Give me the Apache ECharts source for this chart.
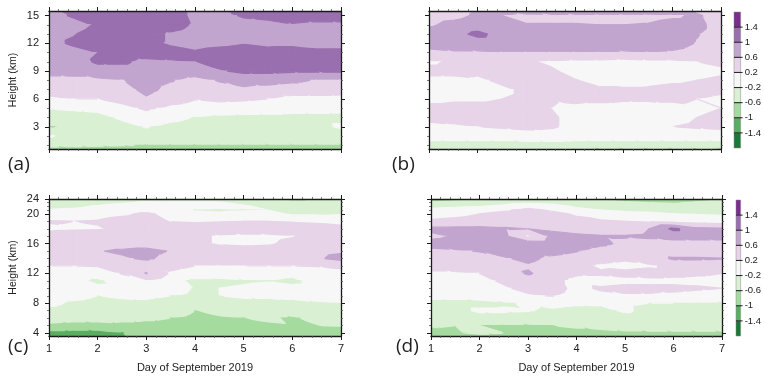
<!DOCTYPE html>
<html><head><meta charset="utf-8">
<script src="https://cdn.jsdelivr.net/npm/echarts@6/dist/echarts.min.js"></script>
<style>html,body{margin:0;padding:0;background:#fff}#c{width:764px;height:379px}</style>
</head><body><div id="c"></div>
<script>
// ---------------- data ----------------
const days = [1,1.5,2,2.5,3,3.5,4,4.5,5,5.5,6,6.5,7];
const heightsAB = [15.5,15,14,13,12,11,10,9,8,7,6,5,4,3,2,1,0.6];
const heightsCD = [24,23,22,21,20,19,18,17,16,15,14,13,12,11,10,9,8,7,6,5,4,3.6];
const levels = [-1.4,-1,-0.6,-0.2,0.2,0.6,1,1.4];
const levelLabels = ['-1.4','-1','-0.6','-0.2','0.2','0.6','1','1.4'];
const dayTicks = [1,2,3,4,5,6,7];
const ticksAB = [3,6,9,12,15];
const minorAB = [1,2,4,5,7,8,10,11,13,14];
const ticksCD = [4,8,12,16,20,24];
const minorCD = [5,6,7,9,10,11,13,14,15,17,18,19,21,22,23];
const xTitle = 'Day of September 2019';
const yTitle = 'Height (km)';
const panelLabels = ['(a)','(b)','(c)','(d)'];

const panelA = [
 [0.85,1.15,1.2,1.2,1.2,1.2,0.9,0.95,1.15,1.2,1.2,1.2,1.2],
 [0.85,1.05,1.2,1.2,1.3,1.2,0.9,0.85,1.05,1.1,1.1,1.1,1.1],
 [0.8,0.85,1.05,1.2,1.2,1.15,0.95,0.8,0.85,0.9,0.98,0.95,0.95],
 [0.9,0.98,1.15,1.2,1.15,0.95,0.85,0.8,0.85,0.85,0.85,0.85,0.85],
 [0.9,1.05,1.2,1.2,1.1,0.95,0.85,0.9,0.98,0.9,0.9,0.85,0.85],
 [0.85,0.88,1.0,1.15,1.15,1.15,1.05,1.15,1.2,1.15,1.2,1.1,1.1],
 [0.8,0.85,1.05,1.05,0.92,0.95,1.0,1.15,1.25,1.25,1.3,1.3,1.25],
 [0.7,0.72,0.85,0.85,0.85,0.8,0.75,0.95,1.1,1.1,1.05,1.05,1.05],
 [0.5,0.5,0.5,0.58,0.75,0.62,0.5,0.62,0.7,0.7,0.65,0.58,0.55],
 [0.3,0.35,0.35,0.45,0.7,0.5,0.45,0.5,0.55,0.5,0.45,0.45,0.4],
 [0.15,0.2,0.2,0.3,0.55,0.35,0.22,0.28,0.25,0.2,0.05,0.05,0.05],
 [-0.18,-0.15,-0.12,0.1,0.25,0.12,0.05,0.02,0.0,-0.02,-0.08,-0.08,-0.1],
 [-0.4,-0.35,-0.3,-0.15,0.05,-0.1,-0.22,-0.28,-0.3,-0.3,-0.3,-0.3,-0.3],
 [-0.65,-0.5,-0.4,-0.3,-0.18,-0.3,-0.35,-0.35,-0.35,-0.35,-0.35,-0.3,-0.15],
 [-0.15,-0.35,-0.4,-0.4,-0.35,-0.4,-0.4,-0.4,-0.4,-0.4,-0.4,-0.4,-0.4],
 [-0.5,-0.52,-0.55,-0.58,-0.62,-0.62,-0.62,-0.62,-0.62,-0.62,-0.62,-0.62,-0.62],
 [-0.75,-0.75,-0.75,-0.75,-0.75,-0.75,-0.75,-0.75,-0.75,-0.75,-0.75,-0.75,-0.75]
];
const panelB = [
 [0.45,0.5,0.62,0.75,0.8,0.85,1.05,1.05,1.05,1.05,1.0,0.55,0.45],
 [0.45,0.5,0.65,0.6,0.5,0.5,0.5,0.5,0.5,0.5,0.55,0.65,0.45],
 [0.55,0.7,0.8,0.68,0.62,0.62,0.62,0.6,0.6,0.62,0.7,0.7,0.45],
 [0.75,0.85,1.1,0.85,0.8,0.8,0.85,0.85,0.85,0.85,0.8,0.62,0.45],
 [0.75,0.8,0.8,0.8,0.8,0.8,0.85,0.85,0.8,0.8,0.75,0.58,0.45],
 [0.5,0.55,0.55,0.58,0.58,0.58,0.58,0.58,0.55,0.58,0.55,0.45,0.4],
 [0.15,0.25,0.35,0.3,0.25,0.15,0.1,0.1,0.05,0.1,0.1,0.2,0.25],
 [0.3,0.3,0.25,0.3,0.3,0.25,0.1,0.05,0.0,0.05,0.1,0.1,0.15],
 [0.1,0.1,0.15,0.25,0.3,0.3,0.22,0.1,0.05,0.1,0.15,0.2,0.25],
 [0.05,0.05,0.1,0.15,0.25,0.3,0.3,0.25,0.25,0.25,0.3,0.3,0.25],
 [0.1,0.15,0.15,0.2,0.25,0.25,0.3,0.3,0.25,0.25,0.25,0.2,0.15],
 [0.3,0.3,0.3,0.3,0.25,0.2,0.1,0.05,0.05,0.05,0.1,0.15,0.2],
 [0.3,0.3,0.35,0.35,0.3,0.25,0.1,0.05,0.05,0.05,0.1,0.2,0.25],
 [0.1,0.15,0.2,0.25,0.3,0.25,0.1,0.05,0.05,0.1,0.2,0.25,0.3],
 [-0.05,-0.05,-0.05,-0.05,0.0,0.0,-0.05,-0.05,-0.05,-0.05,-0.05,-0.05,-0.05],
 [-0.35,-0.35,-0.35,-0.35,-0.35,-0.35,-0.35,-0.35,-0.35,-0.35,-0.35,-0.35,-0.35],
 [-0.5,-0.5,-0.55,-0.55,-0.55,-0.6,-0.62,-0.65,-0.65,-0.65,-0.65,-0.65,-0.65]
];
const panelC = [
 [-0.65,-0.65,-0.65,-0.5,-0.4,-0.35,-0.35,-0.4,-0.5,-0.65,-0.9,-0.6,-0.45],
 [-0.45,-0.4,-0.35,-0.25,-0.1,-0.15,-0.15,-0.15,-0.3,-0.35,-0.35,-0.35,-0.35],
 [-0.35,-0.3,-0.15,0.0,0.05,0.0,-0.05,-0.1,-0.15,-0.3,-0.35,-0.35,-0.35],
 [-0.15,-0.1,0.0,0.05,0.1,0.05,-0.22,-0.25,-0.22,-0.2,-0.3,-0.3,-0.3],
 [0.0,0.05,0.1,0.15,0.25,0.1,-0.1,-0.15,-0.1,-0.1,-0.25,-0.25,-0.22],
 [0.22,0.2,0.22,0.3,0.35,0.18,0.15,0.18,0.2,0.2,0.15,0.1,0.0],
 [0.15,0.17,0.18,0.25,0.35,0.4,0.45,0.45,0.45,0.45,0.6,0.45,0.4],
 [0.3,0.35,0.35,0.35,0.35,0.35,0.3,0.15,0.1,0.1,0.18,0.35,0.35],
 [0.35,0.4,0.45,0.45,0.45,0.4,0.3,0.15,0.12,0.15,0.3,0.4,0.4],
 [0.4,0.45,0.58,0.65,0.7,0.58,0.45,0.4,0.4,0.4,0.45,0.5,0.55],
 [0.4,0.4,0.45,0.55,0.65,0.5,0.4,0.4,0.4,0.4,0.45,0.55,0.7],
 [0.2,0.2,0.22,0.35,0.4,0.3,0.2,0.18,0.2,0.2,0.2,0.22,0.3],
 [0.05,0.05,0.0,0.22,0.62,0.15,0.05,0.0,0.0,0.0,-0.1,0.0,0.05],
 [0.0,-0.05,-0.3,0.05,0.15,-0.05,-0.3,-0.3,-0.25,-0.22,-0.3,-0.05,0.0],
 [0.0,-0.05,-0.1,-0.05,0.0,-0.1,-0.22,-0.2,-0.15,-0.1,-0.1,-0.05,0.0],
 [-0.05,-0.1,-0.2,-0.15,-0.15,-0.2,-0.25,-0.2,-0.15,-0.15,-0.15,-0.15,-0.12],
 [-0.12,-0.25,-0.3,-0.28,-0.25,-0.3,-0.35,-0.3,-0.3,-0.3,-0.25,-0.22,-0.2],
 [-0.3,-0.35,-0.35,-0.35,-0.35,-0.4,-0.6,-0.5,-0.45,-0.4,-0.45,-0.4,-0.35],
 [-0.4,-0.45,-0.45,-0.5,-0.55,-0.6,-0.7,-0.65,-0.6,-0.55,-0.65,-0.5,-0.45],
 [-0.7,-0.75,-0.75,-0.7,-0.7,-0.7,-0.75,-0.7,-0.7,-0.65,-0.62,-0.6,-0.58],
 [-1.15,-1.15,-1.15,-1.01,-0.85,-0.85,-0.85,-0.8,-0.8,-0.8,-0.8,-0.8,-0.8],
 [-1.2,-1.2,-1.2,-1.02,-0.9,-0.9,-0.9,-0.85,-0.85,-0.85,-0.85,-0.85,-0.85]
];
const panelD = [
 [-0.75,-0.7,-0.6,-0.45,-0.4,-0.4,-0.45,-0.65,-0.7,-0.8,-1.1,-0.8,-0.55],
 [-0.55,-0.5,-0.45,-0.35,-0.25,-0.3,-0.4,-0.5,-0.55,-0.6,-0.65,-0.5,-0.4],
 [-0.3,-0.25,-0.22,-0.1,0.1,-0.05,-0.25,-0.3,-0.35,-0.35,-0.4,-0.35,-0.35],
 [-0.1,-0.05,0.05,0.15,0.3,0.15,-0.1,-0.2,-0.25,-0.25,-0.3,-0.3,-0.3],
 [0.05,0.1,0.2,0.3,0.35,0.3,0.15,0.0,-0.1,-0.15,-0.2,-0.22,-0.25],
 [0.25,0.3,0.35,0.4,0.45,0.4,0.3,0.25,0.2,0.15,0.1,0.05,0.0],
 [0.7,0.7,0.7,0.65,0.6,0.55,0.5,0.45,0.45,0.6,1.1,0.7,0.65],
 [0.5,0.65,0.75,0.7,0.15,0.7,0.65,0.62,0.62,0.65,0.7,0.7,0.7],
 [0.75,0.8,0.8,0.85,0.85,0.8,0.75,0.65,0.55,0.5,0.5,0.5,0.5],
 [0.5,0.55,0.62,0.75,0.8,0.75,0.62,0.5,0.45,0.4,0.35,0.35,0.35],
 [0.4,0.4,0.45,0.55,0.7,0.5,0.4,0.3,0.25,0.4,0.65,0.65,0.62],
 [0.3,0.35,0.4,0.45,0.55,0.4,0.3,0.15,0.1,0.15,0.3,0.35,0.35],
 [0.15,0.15,0.2,0.35,0.65,0.4,0.25,0.25,0.3,0.35,0.3,0.25,0.2],
 [0.05,0.05,0.1,0.25,0.4,0.3,0.1,0.05,0.1,0.1,0.1,0.1,0.1],
 [0.0,0.0,0.05,0.15,0.3,0.35,0.1,0.25,0.3,0.3,0.3,0.25,0.2],
 [-0.1,-0.1,-0.05,0.05,0.15,0.22,0.05,0.1,0.15,0.15,0.1,0.05,0.0],
 [-0.3,-0.3,-0.3,-0.25,-0.15,-0.1,-0.15,-0.15,-0.15,-0.2,-0.2,-0.22,-0.25],
 [-0.35,-0.3,-0.15,-0.15,-0.18,-0.25,-0.3,-0.3,-0.15,-0.3,-0.3,-0.3,-0.3],
 [-0.4,-0.4,-0.35,-0.35,-0.4,-0.4,-0.4,-0.4,-0.35,-0.35,-0.35,-0.35,-0.35],
 [-0.58,-0.6,-0.6,-0.62,-0.65,-0.6,-0.55,-0.5,-0.48,-0.45,-0.45,-0.45,-0.45],
 [-0.7,-0.65,-0.5,-0.6,-0.75,-0.75,-0.7,-0.7,-0.65,-0.65,-0.65,-0.65,-0.65],
 [-0.75,-0.75,-0.75,-0.75,-0.75,-0.75,-0.75,-0.75,-0.75,-0.75,-0.75,-0.75,-0.75]
];

// ---------------- styling ----------------
const bandColors = ['#1b7837','#5aae61','#a6dba0','#d9f0d3','#f7f7f7','#e7d4e8','#c2a5cf','#9a6faf','#7b2d8b'];
const FONT = 'Liberation Sans';
const AX = '#1a1a1a';
const tfAB = h => h;
const tfCD = h => h <= 20 ? h : 20 + (h - 20) / 2;   // compressed top of the c/d height axis
const invCD = u => u <= 20 ? u : 20 + (u - 20) * 2;

function buildTriangles(grid, heights, tf) {
  const out = [];
  for (let r = 0; r < heights.length - 1; r++) {
    for (let c = 0; c < days.length - 1; c++) {
      const p00 = [days[c], tf(heights[r]), grid[r][c]];
      const p01 = [days[c+1], tf(heights[r]), grid[r][c+1]];
      const p10 = [days[c], tf(heights[r+1]), grid[r+1][c]];
      const p11 = [days[c+1], tf(heights[r+1]), grid[r+1][c+1]];
      out.push([].concat(p00, p01, p11));
      out.push([].concat(p00, p11, p10));
    }
  }
  return out;
}

function clip(poly, t, keepAbove) {
  const res = [];
  const inside = p => keepAbove ? p[2] >= t : p[2] < t;
  for (let i = 0; i < poly.length; i++) {
    const a = poly[i], b = poly[(i + 1) % poly.length];
    const ia = inside(a), ib = inside(b);
    if (ia) res.push(a);
    if (ia !== ib) {
      const f = (t - a[2]) / (b[2] - a[2]);
      res.push([a[0] + f * (b[0] - a[0]), a[1] + f * (b[1] - a[1]), t]);
    }
  }
  return res;
}

function renderTri(params, api) {
  const pts = [];
  for (let k = 0; k < 3; k++) {
    const p = api.coord([api.value(3*k), api.value(3*k+1)]);
    pts.push([p[0], p[1], api.value(3*k+2)]);
  }
  const children = [];
  for (let b = 0; b < 9; b++) {
    let poly = pts;
    if (b > 0) poly = clip(poly, levels[b-1], true);
    if (poly.length >= 3 && b < 8) poly = clip(poly, levels[b], false);
    if (poly.length >= 3) {
      children.push({type:'polygon', shape:{points: poly.map(p => [p[0], p[1]])},
        style:{fill: bandColors[b], stroke: bandColors[b], lineWidth: 1.2, lineJoin:'round'}});
    }
  }
  return {type:'group', children};
}

const grid = [
  {left:49, top:11, width:292, height:138},
  {left:429, top:11, width:292, height:138},
  {left:49, top:199, width:292, height:137},
  {left:431, top:199, width:291, height:137},
  {left:734, top:12, width:9, height:136},
  {left:736, top:200, width:8, height:136}
];
const xAxis = [], yAxis = [], series = [];
const labStyle = {fontSize:11, color:'#222', fontFamily:FONT};

function addPanel(gi, data, heights, tf, inv, majors, minors, showX, showY) {
  const xb = {gridIndex:gi, type:'value', min:1, max:7, interval:1, splitLine:{show:false},
    axisLine:{show:true, onZero:false, lineStyle:{color:AX, width:1.3}},
    axisTick:{show:true, length:4, lineStyle:{color:AX, width:1}},
    minorTick:{show:true, splitNumber:5, length:2, lineStyle:{color:'#555', width:0.8}},
    minorSplitLine:{show:false}};
  xAxis.push(Object.assign({}, xb, {position:'bottom', z:5,
    axisLabel:Object.assign({show:showX, margin:7}, labStyle),
    name: showX ? xTitle : '', nameLocation:'middle', nameGap:26, nameTextStyle:labStyle}));
  xAxis.push(Object.assign({}, xb, {position:'top', z:5, axisLabel:{show:false}}));
  const yMin = tf(heights[heights.length-1]), yMax = tf(heights[0]);
  const maj = majors.map(tf), mnr = minors.map(tf);
  const yb = {gridIndex:gi, type:'value', min:yMin, max:yMax, splitLine:{show:false}, z:5};
  ['left','right'].forEach(pos => {
    yAxis.push(Object.assign({}, yb, {position:pos,
      axisLine:{show:true, onZero:false, lineStyle:{color:AX, width:1.3}},
      axisTick:{show:true, length:4, customValues:maj, lineStyle:{color:AX, width:1}},
      axisLabel:Object.assign({show: showY && pos === 'left', margin:10, customValues:maj,
        formatter: v => String(Math.round(inv(v)))}, labStyle),
      name: (showY && pos === 'left') ? yTitle : '', nameLocation:'middle', nameRotate:90, nameGap:30,
      nameTextStyle:{fontSize:10.5, color:'#222', fontFamily:FONT}}));
    yAxis.push(Object.assign({}, yb, {position:pos,
      axisLine:{show:false},
      axisTick:{show:true, length:2, customValues:mnr, lineStyle:{color:'#555', width:0.8}},
      axisLabel:{show:false}}));
  });
  series.push({type:'custom', xAxisIndex:2*gi, yAxisIndex:4*gi, data:buildTriangles(data, heights, tf),
    renderItem:renderTri, clip:true, silent:true, animation:false, z:1});
}
addPanel(0, panelA, heightsAB, tfAB, tfAB, ticksAB, minorAB, false, true);
addPanel(1, panelB, heightsAB, tfAB, tfAB, ticksAB, minorAB, false, false);
addPanel(2, panelC, heightsCD, tfCD, invCD, ticksCD, minorCD, true, true);
addPanel(3, panelD, heightsCD, tfCD, invCD, ticksCD, minorCD, true, false);

// colour bars
[4,5].forEach(gi => {
  xAxis.push({gridIndex:gi, type:'value', min:0, max:1, show:false});
  yAxis.push({gridIndex:gi, type:'value', min:0, max:9, position:'right',
    axisLine:{show:false}, axisTick:{show:false}, splitLine:{show:false},
    axisLabel:{customValues:[1,2,3,4,5,6,7,8], formatter: v => levelLabels[Math.round(v)-1],
      margin:4, fontSize:9.5, color:'#222', fontFamily:FONT}});
  const xi = xAxis.length - 1, yi = yAxis.length - 1;
  series.push({type:'custom', xAxisIndex:xi, yAxisIndex:yi, silent:true, animation:false,
    data: bandColors.map((c, i) => [i]),
    renderItem: (params, api) => {
      const i = api.value(0);
      const p0 = api.coord([0, i]), p1 = api.coord([1, i + 1]);
      const ch = [{type:'rect', shape:{x:p0[0], y:p1[1], width:p1[0]-p0[0], height:p0[1]-p1[1]},
        style:{fill:bandColors[i], stroke:'#888', lineWidth:0.5}}];
      if (i > 0) ch.push({type:'line', shape:{x1:p0[0], y1:p0[1], x2:p1[0]+2, y2:p0[1]},
        style:{stroke:'#222', lineWidth:1}});
      return {type:'group', children:ch};
    }});
});

const labelPos = [[8,165],[392,165],[8,347],[396,347]];
const graphic = panelLabels.map((t, i) => ({type:'text', x:labelPos[i][0], y:labelPos[i][1],
  style:{text:t, fontSize:19, fontFamily:'Open Sans', fill:'#222', verticalAlign:'middle'}}));

const chart = echarts.init(document.getElementById('c'), null, {renderer:'canvas'});
chart.setOption({animation:false, backgroundColor:'#fff', grid, xAxis, yAxis, series, graphic});
</script></body></html>
